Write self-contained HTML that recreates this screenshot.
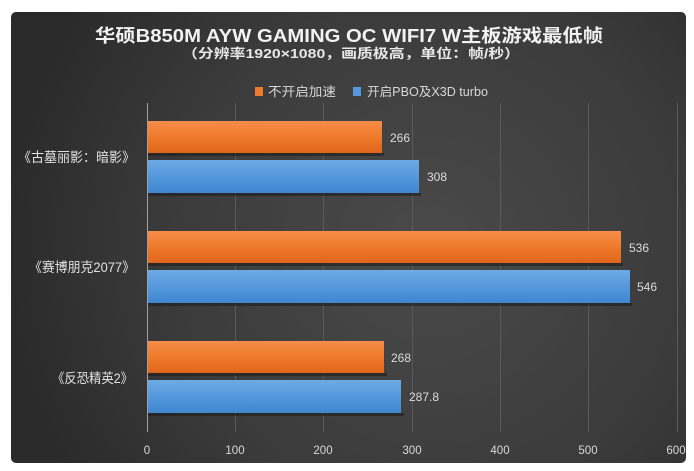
<!DOCTYPE html>
<html><head><meta charset="utf-8"><style>
html,body{margin:0;padding:0;background:#fff;width:694px;height:471px;overflow:hidden}
svg{display:block}
text{font-family:"Liberation Sans","Noto Sans CJK SC",sans-serif}
</style></head><body>
<svg width="694" height="471" viewBox="0 0 694 471" xmlns="http://www.w3.org/2000/svg">
<defs>
<radialGradient id="bg" cx="430" cy="250" r="430" gradientUnits="userSpaceOnUse">
<stop offset="0" stop-color="#4a4a4a"/><stop offset="0.6" stop-color="#3b3b3b"/><stop offset="1" stop-color="#2a2a2a"/>
</radialGradient>
<linearGradient id="og" x1="0" y1="0" x2="0" y2="1">
<stop offset="0" stop-color="#f58d4a"/><stop offset="0.5" stop-color="#f07a2c"/><stop offset="1" stop-color="#e0661a"/>
</linearGradient>
<linearGradient id="bg2" x1="0" y1="0" x2="0" y2="1">
<stop offset="0" stop-color="#6eabe5"/><stop offset="0.5" stop-color="#5598dc"/><stop offset="1" stop-color="#3f86d0"/>
</linearGradient>
</defs>
<rect x="11" y="12" width="675" height="451" rx="5" fill="url(#bg)"/>
<!-- title -->
<text x="349" y="42" text-anchor="middle" font-size="18" font-weight="bold" fill="#f2f2f2" textLength="508" lengthAdjust="spacingAndGlyphs">华硕B850M AYW GAMING OC WIFI7 W主板游戏最低帧</text>
<text x="351" y="58" text-anchor="middle" font-size="13" font-weight="bold" fill="#e8e8e8" textLength="338" lengthAdjust="spacingAndGlyphs">（分辨率1920×1080，画质极高，单位：帧/秒）</text>
<!-- legend -->
<rect x="255" y="87" width="8" height="9" fill="#f07a2c"/>
<text x="268" y="96" font-size="12.5" fill="#d8d8d8" textLength="68" lengthAdjust="spacingAndGlyphs">不开启加速</text>
<rect x="353" y="87" width="8" height="9" fill="#5598dc"/>
<text x="367" y="96" font-size="12.5" fill="#d8d8d8" textLength="121" lengthAdjust="spacingAndGlyphs">开启PBO及X3D turbo</text>
<!-- gridlines -->
<g stroke="#5a5a5a" stroke-width="1">
<line x1="235.5" y1="103" x2="235.5" y2="432"/>
<line x1="323.5" y1="103" x2="323.5" y2="432"/>
<line x1="412.5" y1="103" x2="412.5" y2="432"/>
<line x1="500.5" y1="103" x2="500.5" y2="432"/>
<line x1="588.5" y1="103" x2="588.5" y2="432"/>
<line x1="677.5" y1="103" x2="677.5" y2="432"/>
</g>
<line x1="147.5" y1="103" x2="147.5" y2="432" stroke="#a0a0a0" stroke-width="1"/>
<!-- bars: scale 0.883 -->
<g fill="#1e1e1e" opacity="0.6">
<rect x="148" y="153" width="236" height="3"/>
<rect x="148" y="193" width="273" height="3"/>
<rect x="148" y="263" width="475" height="3"/>
<rect x="148" y="303" width="484" height="3"/>
<rect x="148" y="373" width="239" height="3"/>
<rect x="148" y="413" width="256" height="3"/>
</g>
<rect x="148" y="121" width="234" height="32" fill="url(#og)"/>
<rect x="148" y="160" width="271" height="33" fill="url(#bg2)"/>
<rect x="148" y="231" width="473" height="32" fill="url(#og)"/>
<rect x="148" y="270" width="482" height="33" fill="url(#bg2)"/>
<rect x="148" y="341" width="236" height="32" fill="url(#og)"/>
<rect x="148" y="380" width="253" height="33" fill="url(#bg2)"/>
<!-- value labels -->
<g font-size="12" fill="#dcdcdc">
<text x="390" y="142">266</text>
<text x="427" y="181">308</text>
<text x="629" y="252">536</text>
<text x="637" y="291">546</text>
<text x="391" y="362">268</text>
<text x="409" y="401">287.8</text>
</g>
<!-- category labels -->
<g font-size="13.5" fill="#e0e0e0" text-anchor="end">
<text x="135" y="162" textLength="117" lengthAdjust="spacingAndGlyphs">《古墓丽影：暗影》</text>
<text x="135" y="272" textLength="106" lengthAdjust="spacingAndGlyphs">《赛博朋克2077》</text>
<text x="133" y="383" textLength="81" lengthAdjust="spacingAndGlyphs">《反恐精英2》</text>
</g>
<!-- tick labels -->
<g font-size="11.5" fill="#d8d8d8" text-anchor="middle">
<text x="147" y="454">0</text>
<text x="235" y="454">100</text>
<text x="323" y="454">200</text>
<text x="412" y="454">300</text>
<text x="500" y="454">400</text>
<text x="588" y="454">500</text>
<text x="676" y="454">600</text>
</g>
</svg>
</body></html>
